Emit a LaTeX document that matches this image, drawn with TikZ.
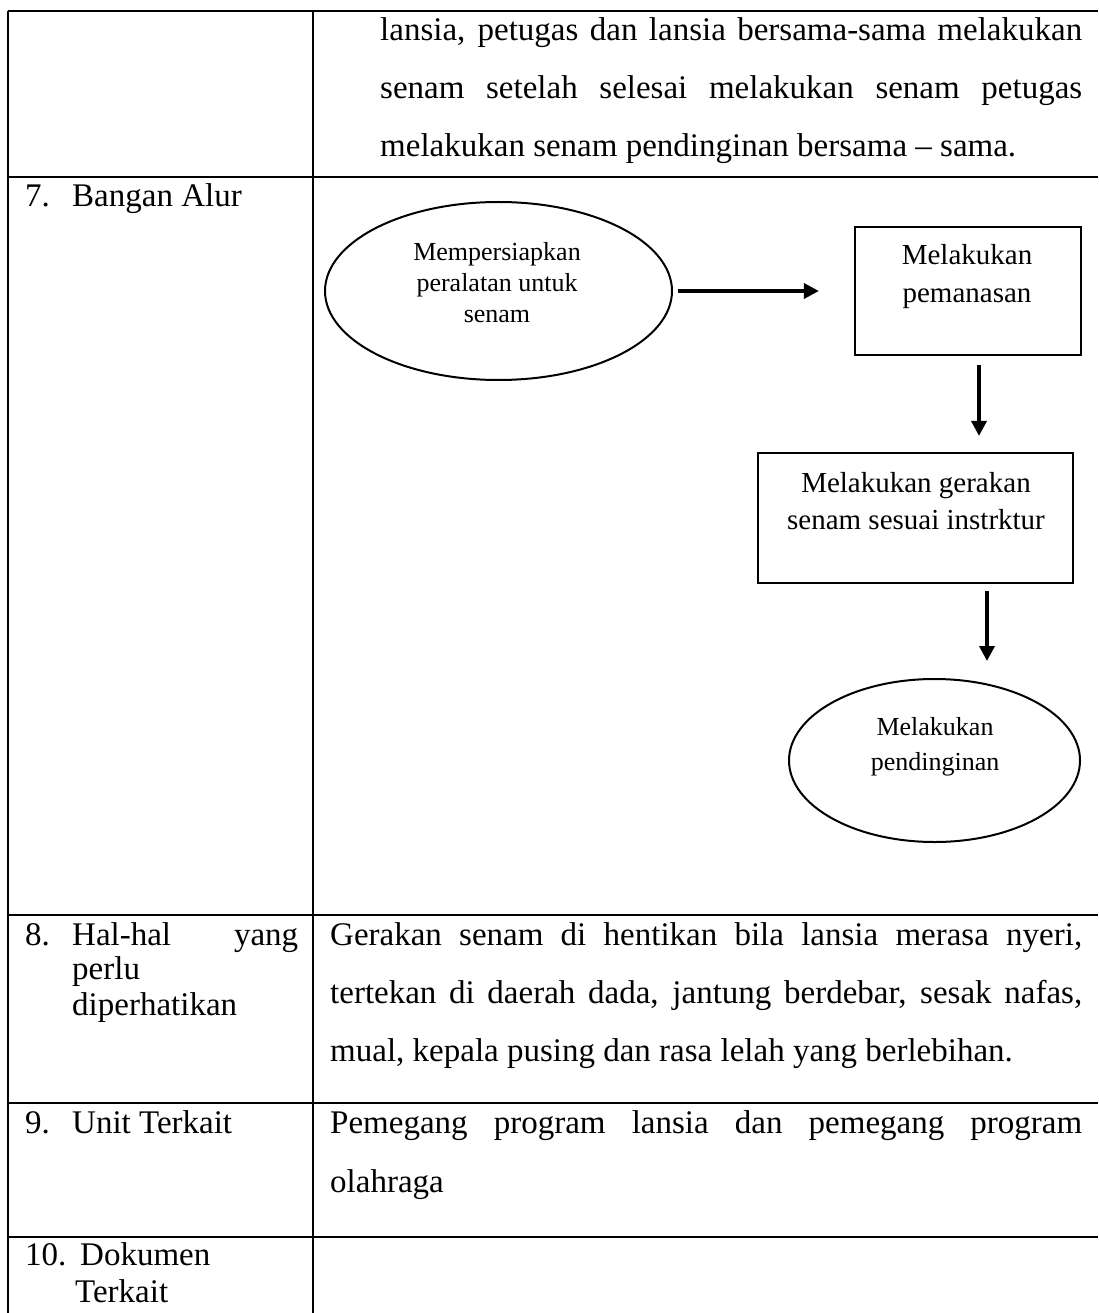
\documentclass[tikz,border=0pt]{standalone}
\usepackage{fontspec}
\setmainfont{Liberation Serif}
\usetikzlibrary{arrows.meta,shapes.geometric}
\begin{document}
\begin{tikzpicture}[x=1pt,y=-1pt,
  grid/.style={line width=2pt},
  tbl/.style={font=\fontsize{33}{40}\selectfont, inner sep=0pt, anchor=base west},
  shapebox/.style={draw, line width=2.2pt, rectangle, inner sep=0pt},
  oval/.style={draw, line width=2pt, ellipse, inner sep=0pt},
  flowtxt/.style={align=center, inner sep=0pt},
  arr/.style={line width=3.5pt, -{Triangle[length=15pt,width=15pt]}},
]
\useasboundingbox (0,0) rectangle (1098,1313);
\fill[white] (0,0) rectangle (1098,1313);

% table grid
\draw[grid] (8,11) -- (1098,11);
\draw[grid] (8,177) -- (1098,177);
\draw[grid] (8,915) -- (1098,915);
\draw[grid] (8,1103) -- (1098,1103);
\draw[grid] (8,1237) -- (1098,1237);
\draw[grid] (8,11) -- (8,1313);
\draw[grid] (313,11) -- (313,1313);

% row 6 (continued)
\node[tbl] (r6a) at (380,41) {\makebox[702pt][s]{lansia, petugas dan lansia bersama-sama melakukan}};
\node[tbl] (r6b) at (380,99) {\makebox[702pt][s]{senam setelah selesai melakukan senam petugas}};
\node[tbl] (r6c) at (380,157) {melakukan senam pendinginan bersama – sama.};

% row 7
\node[tbl] (r7l) at (25,207) {\makebox[47pt][l]{7.}Bangan Alur};

% flowchart
\node[oval, minimum width=347pt, minimum height=178pt] (e1) at (498.5,291) {};
\node[flowtxt, font=\fontsize{26}{31}\selectfont] (e1t) at (497,283) {Mempersiapkan\\peralatan untuk\\senam};

\node[shapebox, minimum width=226pt, minimum height=128pt] (b1) at (968,291) {};
\node[flowtxt, font=\fontsize{29}{38}\selectfont] (b1t) at (967,277) {Melakukan\\pemanasan};

\node[shapebox, minimum width=315pt, minimum height=130pt] (b2) at (915.5,518) {};
\node[flowtxt, font=\fontsize{29}{37}\selectfont] (b2t) at (916,501) {Melakukan gerakan\\senam sesuai instrktur};

\node[oval, minimum width=291pt, minimum height=163pt] (e2) at (934.5,760.5) {};
\node[flowtxt, font=\fontsize{26}{35}\selectfont] (e2t) at (935,747) {Melakukan\\pendinginan};

\coordinate (ax1) at (979,0);
\coordinate (ax2) at (987,0);
\draw[arr, shorten <=5pt, shorten >=35pt] (e1.east) -- (e1.east -| b1.west);
\draw[arr, shorten <=9pt, shorten >=16pt] (b1.south -| ax1) -- (b2.north -| ax1);
\draw[arr, shorten <=7pt, shorten >=17pt] (b2.south -| ax2) -- (e2.north -| ax2);

% row 8
\node[tbl] (r8l1) at (25,945) {\makebox[47pt][l]{8.}\makebox[226pt][s]{Hal-hal yang}};
\node[tbl] (r8l2) at (72,979) {perlu};
\node[tbl] (r8l3) at (72,1015) {diperhatikan};
\node[tbl] (r8a) at (330,945) {\makebox[752pt][s]{Gerakan senam di hentikan bila lansia merasa nyeri,}};
\node[tbl] (r8b) at (330,1003) {\makebox[752pt][s]{tertekan di daerah dada, jantung berdebar, sesak nafas,}};
\node[tbl] (r8c) at (330,1061) {mual, kepala pusing dan rasa lelah yang berlebihan.};

% row 9
\node[tbl] (r9l) at (25,1133) {\makebox[47pt][l]{9.}Unit Terkait};
\node[tbl] (r9a) at (330,1133) {\makebox[752pt][s]{Pemegang program lansia dan pemegang program}};
\node[tbl] (r9b) at (330,1192) {olahraga};

% row 10
\node[tbl] (r10l1) at (25,1265) {\makebox[55pt][l]{10.}Dokumen};
\node[tbl] (r10l2) at (75,1302) {Terkait};
\end{tikzpicture}
\end{document}
